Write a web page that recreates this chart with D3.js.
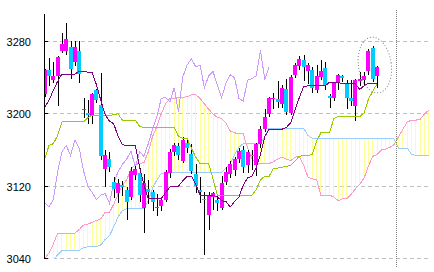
<!DOCTYPE html>
<html><head><meta charset="utf-8">
<script src="https://cdn.jsdelivr.net/npm/d3@7"></script>
<style>html,body{margin:0;padding:0;background:#fff}svg{display:block}</style>
</head><body>
<svg id="c" width="434" height="272"></svg>
<script>
// ---- data ----
const days = d3.range(78);           // candle index
const opens  = [3222,3248,3237,3242,3270,3269,3274,3257,3270,3204,3201,3198,3226,3210,3139,3150,3125,3112,3121,3116,3108,3132,3135,3096,3117,3113,3096,3098,3105,3135,3158,3164,3148,3168,3156,3134,3116,3106,3088,3108,3105,3096,3125,3134,3138,3150,3160,3143,3155,3143,3167,3183,3200,3216,3216,3211,3228,3201,3243,3253,3259,3247,3249,3226,3241,3251,3220,3218,3234,3242,3233,3218,3209,3236,3237,3247,3273,3242];
const highs  = [3250,3262,3257,3264,3289,3301,3280,3280,3280,3218,3215,3223,3227,3245,3160,3158,3130,3128,3126,3119,3141,3142,3140,3134,3127,3116,3111,3108,3138,3161,3168,3168,3174,3172,3167,3145,3130,3113,3114,3114,3110,3131,3141,3148,3152,3162,3164,3160,3160,3168,3187,3205,3219,3223,3236,3232,3238,3243,3256,3264,3265,3256,3252,3254,3260,3257,3222,3235,3244,3243,3237,3237,3239,3246,3246,3272,3275,3253];
const lows   = [3220,3232,3235,3210,3268,3266,3240,3254,3235,3196,3190,3190,3213,3150,3120,3137,3108,3102,3110,3084,3106,3128,3104,3069,3101,3094,3088,3094,3104,3130,3155,3150,3147,3158,3135,3113,3102,3045,3073,3095,3094,3095,3122,3130,3132,3147,3136,3136,3139,3132,3163,3181,3198,3206,3208,3208,3200,3200,3241,3250,3237,3234,3224,3224,3238,3228,3208,3215,3227,3236,3206,3210,3193,3232,3233,3244,3236,3230];
const closes = [3248,3242,3242,3263,3277,3283,3250,3274,3244,3205,3199,3222,3215,3153,3155,3141,3117,3123,3119,3103,3137,3139,3110,3123,3114,3102,3097,3105,3136,3158,3165,3154,3171,3162,3137,3120,3113,3105,3110,3112,3101,3123,3136,3144,3150,3159,3141,3158,3153,3167,3183,3197,3217,3218,3213,3229,3202,3241,3254,3261,3252,3254,3229,3242,3247,3232,3218,3234,3243,3240,3217,3214,3237,3239,3242,3270,3238,3252];
const tenkan = [3207,3215,3226,3236,3244,3244,3244,3244,3247,3247,3246,3246,3232,3215,3199,3192,3189,3175,3166,3165,3165,3165,3141,3121,3106,3106,3106,3106,3113,3119,3120,3120,3126,3131,3131,3122,3110,3110,3110,3110,3108,3104,3103,3097,3103,3108,3121,3129,3131,3140,3155,3175,3183,3183,3183,3183,3185,3190,3204,3218,3230,3231,3231,3231,3231,3231,3235,3235,3235,3233,3233,3233,3233,3227,3231,3234,3234,3234];
const kijun  = [3150,3165,3167,3176,3191,3191,3191,3191,3191,3191,3196,3198,3198,3198,3198,3198,3199,3200,3193,3193,3193,3193,3186,3185,3185,3185,3185,3185,3185,3185,3185,3175,3173,3173,3162,3152,3145,3145,3145,3128,3110,3110,3110,3110,3110,3110,3110,3110,3110,3116,3127,3131,3131,3140,3140,3141,3142,3143,3148,3153,3154,3154,3155,3170,3179,3179,3179,3195,3197,3197,3197,3197,3197,3197,3201,3216,3225,3233];
const spanA  = [3040,3046,3056,3068,3068,3068,3068,3068,3072,3077,3078,3080,3082,3084,3091,3091,3100,3111,3121,3127,3139,3144,3145,3146,3158,3175,3186,3200,3211,3217,3217,3218,3218,3219,3221,3221,3217,3211,3205,3200,3196,3195,3190,3181,3179,3178,3178,3162,3150,3145,3145,3145,3145,3147,3150,3152,3150,3148,3152,3153,3143,3130,3128,3127,3110,3110,3110,3108,3104,3106,3106,3111,3117,3122,3129,3142,3153,3155,3160,3161,3163,3166,3175,3183,3191,3193,3193,3194,3200,3204];
const spanB  = [3035,3036,3038,3044,3049,3049,3049,3049,3049,3052,3053,3053,3053,3055,3061,3065,3075,3086,3093,3095,3095,3095,3095,3095,3104,3118,3127,3134,3135,3135,3135,3135,3135,3135,3135,3135,3135,3135,3135,3135,3135,3135,3140,3145,3155,3163,3167,3167,3167,3167,3167,3175,3184,3184,3184,3184,3184,3184,3184,3184,3184,3176,3173,3173,3173,3173,3173,3173,3173,3173,3173,3173,3173,3173,3173,3173,3173,3173,3173,3173,3173,3172,3162,3162,3162,3155,3154,3154,3154,3154];
const lagShift = 25;
const yTicks = [3040, 3120, 3200, 3280];
const markerDay = 81.5;   // dotted vertical marker

// ---- scales ----
const svg = d3.select('#c');
const step = 4.316;
const x = d3.scaleLinear().domain([0, 89]).range([44.684, 44.684 + 89 * step]);
const y = d3.scaleLinear().domain([3040, 3310]).range([258.5, 258.5 - 270 * 0.9042]);
const L = 45, R = 430, T = 14, B = 259;

svg.append('defs').append('clipPath').attr('id', 'plot')
  .append('rect').attr('x', L).attr('y', T).attr('width', R - L).attr('height', B - T);

// grid
svg.append('g').selectAll('line').data(yTicks).join('line')
  .attr('x1', L + 1).attr('x2', 428)
  .attr('y1', d => Math.floor(y(d)) + 0.5).attr('y2', d => Math.floor(y(d)) + 0.5)
  .attr('stroke', '#c0c0c0').attr('stroke-dasharray', '4,3');

const plot = svg.append('g').attr('clip-path', 'url(#plot)');

// cloud hatch
const cloudIdx = d3.range(spanA.length);
plot.append('g').attr('shape-rendering', 'crispEdges').selectAll('line').data(cloudIdx).join('line')
  .attr('x1', i => Math.floor(x(i)) + 0.5).attr('x2', i => Math.floor(x(i)) + 0.5)
  .attr('y1', i => y(spanA[i])).attr('y2', i => y(spanB[i]))
  .attr('stroke', '#ffff99').attr('stroke-width', 1);

const line = d3.line().x(d => x(d[0])).y(d => y(d[1]));
function drawLine(pts, color, w) {
  plot.append('path').datum(pts).attr('d', line)
    .attr('fill', 'none').attr('stroke', color).attr('stroke-width', w || 1)
    .attr('shape-rendering', 'crispEdges');
}
drawLine(spanA.map((v, i) => [i, v]), '#ff99cc');
drawLine(spanB.map((v, i) => [i, v]), '#99ccff');
drawLine(closes.map((v, i) => [i - lagShift, v]).filter(d => d[0] >= -1), '#cc99ff');

// candles
const cg = plot.append('g').attr('shape-rendering', 'crispEdges');
days.forEach(i => {
  const left = Math.round(x(i) - 2);
  cg.append('line')
    .attr('x1', left + 2.5).attr('x2', left + 2.5)
    .attr('y1', Math.round(y(highs[i]))).attr('y2', Math.round(y(lows[i])) + 1)
    .attr('stroke', '#000').attr('stroke-width', 1);
});
days.forEach(i => {
  const left = Math.round(x(i) - 2);
  const top = Math.round(y(Math.max(opens[i], closes[i])));
  const bot = Math.round(y(Math.min(opens[i], closes[i])));
  cg.append('rect')
    .attr('x', left).attr('width', 4)
    .attr('y', top).attr('height', Math.max(1, bot - top))
    .attr('fill', closes[i] >= opens[i] ? '#ff00ff' : '#00ccff');
});

drawLine(kijun.map((v, i) => [i, v]), '#99cc00');
drawLine(tenkan.map((v, i) => [i, v]), '#800080');

// axis
svg.append('line').attr('x1', 44.5).attr('x2', 44.5).attr('y1', T).attr('y2', B)
  .attr('stroke', '#000');
svg.append('g').selectAll('line').data(yTicks).join('line')
  .attr('x1', 45).attr('x2', 48)
  .attr('y1', d => Math.floor(y(d)) + 0.5).attr('y2', d => Math.floor(y(d)) + 0.5)
  .attr('stroke', '#000');
svg.append('g').selectAll('text').data(yTicks).join('text')
  .attr('x', 31).attr('y', d => Math.floor(y(d)) + 4.5)
  .attr('text-anchor', 'end')
  .style('font-family', 'Liberation Sans, Arial, sans-serif').style('font-size', '11px')
  .attr('fill', '#000').text(d => d);

// dotted marker
const mx = Math.floor(x(markerDay)) + 0.5;
svg.append('line').attr('x1', mx).attr('x2', mx).attr('y1', 10).attr('y2', 268)
  .attr('stroke', '#808080').attr('stroke-dasharray', '1,1');

// highlight ellipse
const ex = x(76.5), ey = y(3254);
svg.append('ellipse').attr('cx', ex).attr('cy', ey)
  .attr('rx', x(80.3) - x(76.5)).attr('ry', y(3254) - y(3285))
  .attr('transform', `rotate(-8 ${ex} ${ey})`)
  .attr('fill', 'none').attr('stroke', '#808080').attr('stroke-dasharray', '1,2');
</script>
</body></html>
